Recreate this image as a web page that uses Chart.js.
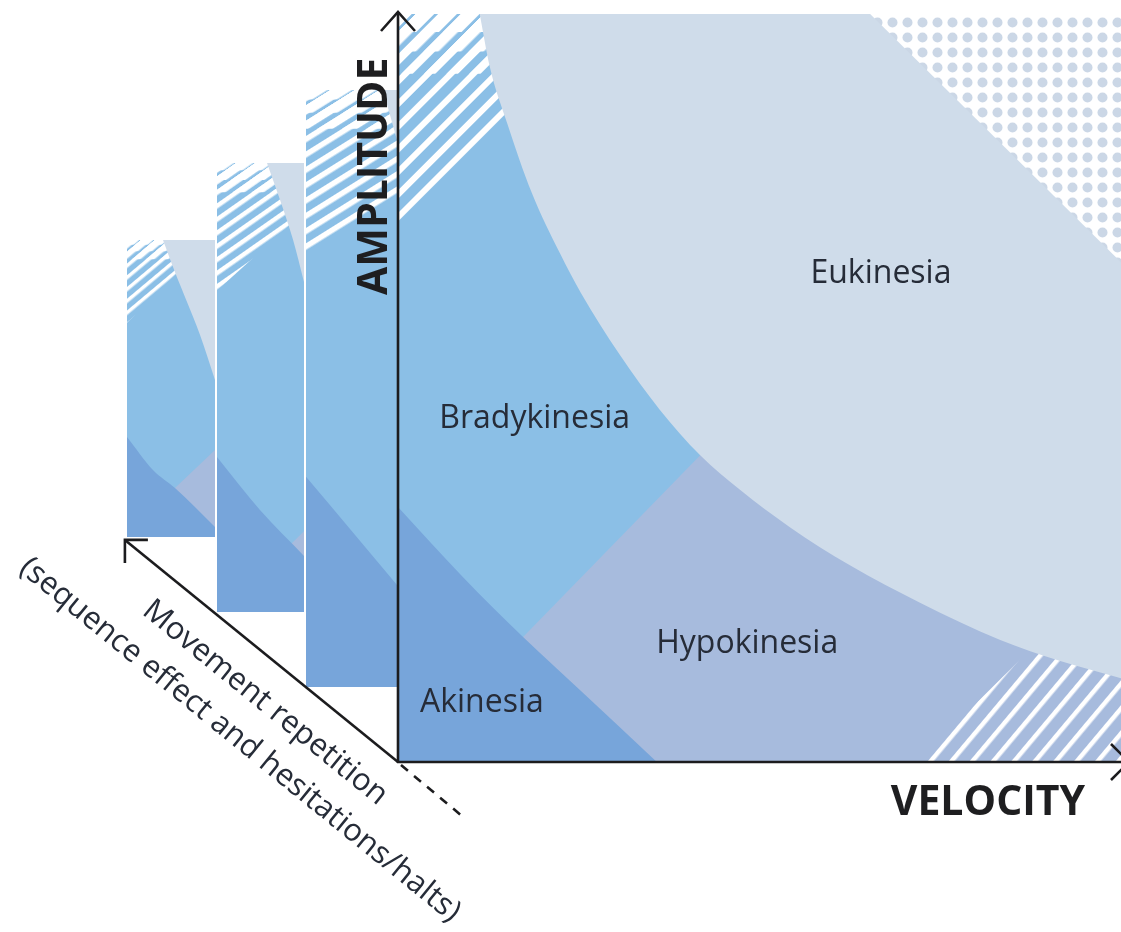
<!DOCTYPE html>
<html>
<head>
<meta charset="utf-8">
<script src="https://cdn.jsdelivr.net/npm/chart.js@4.4.1/dist/chart.umd.min.js"></script>
<style>
  html, body { margin: 0; padding: 0; background: #ffffff; width: 1121px; height: 932px; overflow: hidden; }
  .slice { position: absolute; z-index: 1; }
  .slice canvas { display: block; }
  #main { position: absolute; left: 0; top: 0; z-index: 2; }
</style>
</head>
<body>
<div class="slice" style="left:127px; top:240px; width:88px; height:297px;"><canvas id="rep3" width="88" height="297"></canvas></div>
<div class="slice" style="left:217px; top:163px; width:87px; height:449px;"><canvas id="rep2" width="87" height="449"></canvas></div>
<div class="slice" style="left:306px; top:90px; width:91px; height:597px;"><canvas id="rep1" width="91" height="597"></canvas></div>
<canvas id="main" width="1121" height="932"></canvas>
<script>
// ---------------- texts ----------------
const regionNames = ['Eukinesia', 'Bradykinesia', 'Hypokinesia', 'Akinesia'];
const axisTitles = ['AMPLITUDE', 'VELOCITY'];
const depthTitle = ['Movement repetition', '(sequence effect and hesitations/halts)'];

// ---------------- main slice (velocity 0-100, amplitude 0-100) ----------------
const mainEukinesiaEdge = [[11.3,100],[12.7,92.9],[15.1,85.4],[18.5,76.1],[22.4,68.0],[25.3,62.7],[30.7,54.4],[36.2,47.1],[41.8,41.0],[47.3,36.4],[54.2,31.4],[62.5,26.3],[72.2,21.3],[83.3,16.3],[91.6,13.5],[100,11.2]];
const mainAkinesiaEdge = [[0,34.1],[9.0,24.7],[17.3,16.7],[25.2,9.6],[35.8,0]];
const mainHypokinesiaEdge = [[0.5,0],[17.3,16.7],[41.8,41.0],[100,99]];
const mainHatchEdge = [[0,71.1],[15.1,85.6],[25,95.3]];
const mainHatchRightEdge = [[71.8,0],[87.0,14.6],[100,27.1]];
const mainDottedEdge = [[65.3,100],[100,66.8]];
const mainHatchFadeLevels = [92.0, 95.0, 97.6];

// ---------------- earlier repetitions (back slices) ----------------
const rep1EukinesiaEdge = [[84.6,100],[92,96],[100,91.6]];
const rep1HatchEdge = [[0,72.7],[100,82.1]];
const rep1AkinesiaEdge = [[0,35.2],[51.6,25.9],[100,17.1]];
const rep1HypokinesiaEdge = [];

const rep2EukinesiaEdge = [[57.5,100],[72.4,91.8],[87.4,82.9],[100,73.5]];
const rep2HatchEdge = [[0,71.6],[100,89.1]];
const rep2AkinesiaEdge = [[0,34.5],[49.4,22.7],[100,12.5]];
const rep2HypokinesiaEdge = [[5,0],[81.6,14.5],[100,18.0]];

const rep3EukinesiaEdge = [[40.9,100],[54.5,89.2],[68.2,79.1],[83.0,68.0],[100,52.9]];
const rep3HatchEdge = [[0,72.1],[48.9,86.5],[60,89.8]];
const rep3AkinesiaEdge = [[0,33.7],[29.5,22.6],[54.5,16.5],[100,3.4]];
const rep3HypokinesiaEdge = [[0,1.2],[54.5,16.5],[100,29.3]];

const sliceFadeLevels = [93.5, 96.2, 98.4];

// label anchors (in data units of the main slice)
const regionLabelAt = [[66.8,64.0],[18.9,44.65],[48.3,14.57],[11.6,6.68]];

// ---------------- styles ----------------
const COL = { euk: '#cfdcea', brady: '#8bbfe6', hypo: '#a7bbdd', aki: '#77a5da', dots: '#cbd7e6', text: '#262c38', axis: '#1c1c1e' };

function pts(a) { return a.map(p => ({ x: p[0], y: p[1] })); }
function flat(v) { return [[0, v], [100, v]]; }

function stripes(ctx, period, width, angle) {
  const c = document.createElement('canvas');
  c.width = period; c.height = period;
  const g = c.getContext('2d');
  g.fillStyle = '#ffffff';
  g.fillRect(0, 0, period, width);
  const p = ctx.createPattern(c, 'repeat');
  p.setTransform(new DOMMatrix().rotate(-angle));
  return p;
}
function dots(ctx, step, r) {
  const c = document.createElement('canvas');
  c.width = step; c.height = step;
  const g = c.getContext('2d');
  g.fillStyle = '#ffffff'; g.fillRect(0, 0, step, step);
  g.fillStyle = COL.dots;
  g.beginPath(); g.arc(step / 2, step / 2, r, 0, Math.PI * 2); g.fill();
  return ctx.createPattern(c, 'repeat');
}

function layer(data, fill, color, smooth) {
  return {
    data: pts(data), fill: fill, backgroundColor: color,
    borderColor: 'rgba(0,0,0,0)', borderWidth: 0, pointRadius: 0,
    tension: 0, cubicInterpolationMode: smooth ? 'monotone' : 'default'
  };
}

function baseOptions(pad) {
  return {
    responsive: false, animation: false, devicePixelRatio: 1, events: [],
    layout: { padding: pad },
    plugins: { legend: { display: false }, tooltip: { enabled: false } },
    scales: {
      x: { type: 'linear', min: 0, max: 100, display: false },
      y: { type: 'linear', min: 0, max: 100, display: false }
    }
  };
}

function withOrder(list) { list.forEach((d, i) => { d.order = -i; }); return list; }

// ---------------- back slices ----------------
function sliceChart(id, euk, hatch, aki, hypo, angle, period, width) {
  const canvas = document.getElementById(id);
  const ctx = canvas.getContext('2d');
  const ds = [layer(flat(100), 'start', COL.brady)];
  if (hypo.length) ds.push(layer(hypo, 'start', COL.hypo));
  ds.push(layer(aki, 'start', COL.aki, true));
  ds.push(layer(hatch, 'end', stripes(ctx, period, width, angle)));
  sliceFadeLevels.forEach((lv, i) => {
    ds.push(layer(flat(lv), 'end', stripes(ctx, period, width + (period - width) * (0.35 + 0.22 * i), angle)));
  });
  ds.push(layer(euk, 'end', COL.euk, true));
  new Chart(ctx, { type: 'line', data: { datasets: withOrder(ds) }, options: baseOptions(0) });
}
sliceChart('rep1', rep1EukinesiaEdge, rep1HatchEdge, rep1AkinesiaEdge, rep1HypokinesiaEdge, 32, 13, 5.5);
sliceChart('rep2', rep2EukinesiaEdge, rep2HatchEdge, rep2AkinesiaEdge, rep2HypokinesiaEdge, 35, 11, 4.5);
sliceChart('rep3', rep3EukinesiaEdge, rep3HatchEdge, rep3AkinesiaEdge, rep3HypokinesiaEdge, 40, 9, 3.5);

// ---------------- main slice ----------------
const annotate = {
  id: 'annotate',
  afterDraw(chart) {
    const { ctx, scales: { x, y } } = chart;
    const ox = x.getPixelForValue(0), oy = y.getPixelForValue(0);
    const top = y.getPixelForValue(100), right = x.getPixelForValue(100);
    ctx.save();
    ctx.strokeStyle = COL.axis; ctx.lineWidth = 2.6; ctx.lineJoin = 'miter';
    // amplitude axis
    ctx.beginPath(); ctx.moveTo(ox, oy + 1); ctx.lineTo(ox, top - 2); ctx.stroke();
    ctx.beginPath(); ctx.moveTo(ox - 17, top + 17); ctx.lineTo(ox, top - 2); ctx.lineTo(ox + 17, top + 17); ctx.stroke();
    // velocity axis
    ctx.beginPath(); ctx.moveTo(ox - 1, oy); ctx.lineTo(right + 8, oy); ctx.stroke();
    ctx.beginPath(); ctx.moveTo(right - 10, oy - 18); ctx.lineTo(right + 8, oy); ctx.lineTo(right - 10, oy + 18); ctx.stroke();
    // repetition (depth) axis
    const th = Math.atan2(222, 273), L = 352;
    const dx = Math.cos(th), dy = Math.sin(th);
    const tx = ox - L * dx, ty = oy - L * dy;
    ctx.beginPath(); ctx.moveTo(ox, oy); ctx.lineTo(tx, ty); ctx.stroke();
    ctx.beginPath(); ctx.moveTo(tx + 23, ty); ctx.lineTo(tx, ty); ctx.lineTo(tx, ty + 23); ctx.stroke();
    ctx.setLineDash([9, 8]);
    ctx.beginPath(); ctx.moveTo(ox + 3, oy + 3); ctx.lineTo(ox + 64, oy + 54); ctx.stroke();
    ctx.setLineDash([]);

    // region labels
    ctx.fillStyle = COL.text;
    ctx.font = '32px "Open Sans"';
    ctx.textAlign = 'center'; ctx.textBaseline = 'alphabetic';
    regionNames.forEach((n, i) => {
      ctx.fillText(n, x.getPixelForValue(regionLabelAt[i][0]), y.getPixelForValue(regionLabelAt[i][1]));
    });

    // axis titles
    ctx.fillStyle = '#1e1e20';
    ctx.font = 'bold 41px "Open Sans"';
    ctx.save();
    ctx.translate(ox - 11, y.getPixelForValue(78.3));
    ctx.rotate(-Math.PI / 2);
    ctx.fillText(axisTitles[0], 0, 0);
    ctx.restore();
    ctx.fillText(axisTitles[1], x.getPixelForValue(81.6), oy + 53);

    // depth title (rotated along the repetition axis)
    ctx.fillStyle = COL.text;
    ctx.font = '31px "Open Sans"';
    ctx.textBaseline = 'middle';
    const nx = -dy, ny = dx;
    [[140.5, 38], [136.6, 82.6]].forEach((p, i) => {
      const cx = ox - p[0] * dx + p[1] * nx, cy = oy - p[0] * dy + p[1] * ny;
      ctx.save(); ctx.translate(cx, cy); ctx.rotate(th);
      ctx.fillText(depthTitle[i], 0, 0);
      ctx.restore();
    });
    ctx.restore();
  }
};

const mainCanvas = document.getElementById('main');
const mctx = mainCanvas.getContext('2d');
const mainList = [
  layer(flat(100), 'start', COL.brady),
  layer(mainHypokinesiaEdge, 'start', COL.hypo),
  layer(mainAkinesiaEdge, 'start', COL.aki, true),
  layer(mainHatchEdge, 'end', stripes(mctx, 16.5, 6, 45))
];
mainHatchFadeLevels.forEach((lv, i) => {
  mainList.push(layer([[0, lv], [20, lv]], 'end', stripes(mctx, 16.5, 8 + 2.5 * i, 45)));
});
mainList.push(
  layer(mainHatchRightEdge, 'start', stripes(mctx, 16, 4.5, 50)),
  layer(mainEukinesiaEdge, 'end', COL.euk, true),
  layer(mainDottedEdge, 'end', dots(mctx, 15, 5))
);
new Chart(mctx, {
  type: 'line',
  data: { datasets: withOrder(mainList) },
  options: baseOptions({ left: 398, top: 14, right: 0, bottom: 170 }),
  plugins: [annotate]
});
</script>
</body>
</html>
